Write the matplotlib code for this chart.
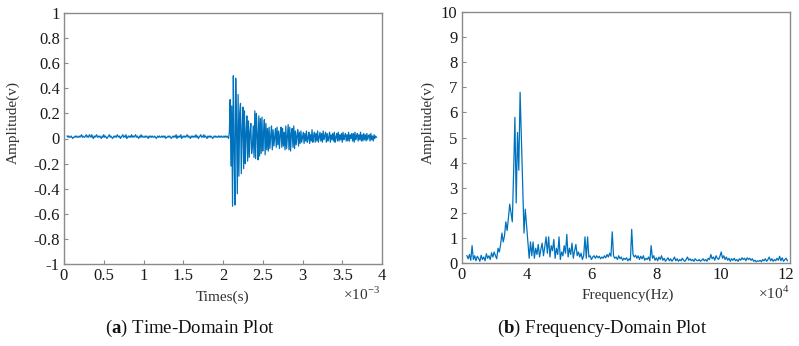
import numpy as np
import matplotlib
matplotlib.use("Agg")
import matplotlib.pyplot as plt

plt.rcParams['font.family'] = ['Liberation Serif', 'DejaVu Serif']
plt.rcParams['mathtext.fontset'] = 'custom'
plt.rcParams['mathtext.rm'] = 'Liberation Serif'
plt.rcParams['mathtext.bf'] = 'Liberation Serif:bold'

# ---- time-domain signal (hundredths of a volt) ----
# sampled every 0.01 ms starting at 0.04 ms
T_START = 0.04
T_STEP = 0.01
amp_time = [
    2, 1, 2, 1, 1, 2, 1, 0, 1, 1, 2, 1, 2, 1, 1, 2, 1, 2, 3, 1,
    2, 1, 1, 2, 3, 1, 2, 1, 3, 2, 1, 3, 1, 0, 2, 1, 2, 3, 1, 2,
    1, 2, 1, 0, 2, 1, 3, 1, 2, 1, 0, 1, 2, 3, 1, 2, 1, 0, 1, 2,
    1, 2, 1, 3, 2, 1, 2, 0, 1, 2, 3, 1, 2, 1, 3, 0, 1, 2, 1, 2,
    1, 3, 1, 2, 1, 2, 3, 1, 2, 1, 0, 2, 1, 3, 1, 2, 1, 1, 2, 1,
    2, 1, 0, 2, 1, 2, 1, 2, 1, 1, 2, 1, 0, 1, 2, 1, 2, 1, 1, 2,
    1, 2, 1, 2, 0, 1, 1, 2, 1, 2, 1, 0, 1, 2, 1, 2, 1, 3, 0, 2,
    1, 2, 1, 3, 0, 1, 2, 1, 2, 1, 2, 3, 1, 2, 1, 0, 2, 1, 2, 1,
    2, 1, 3, 1, 2, 0, 1, 2, 3, 1, 2, 1, 3, 1, 2, 1, 0, 2, 1, 2,
    1, 2, 1, 0, 1, 2, 1, 2, 1, 1, 2, 1, 2, 1, 2, 1, 1, 2, 1, 2,
    1, 2, 1, 0,
    # burst
    5, 31, -22, 26, -54, 50, -8, -53, 48, 10, -44, 35, -30, 20, 28, -28, 6, 25, -24, 22,
    -20, 4, 18, -18, 14, -15, 5, 12, -12, -6, 10, -15, 22, -16, 20, 3, -17, 18, -14, 16,
    -12, 17, -10, 4, 15, -13, 12, -9, 8, -10,
    9, -8, 2, 10, -9, 7, -6, 1, 8, -7, 9, -5, 6, -8, 3, 9, -7, 8, -6, 5,
    -9, 10, -8, 2, 11, -9, 9, -10, 4, 8, -7, 10, -8, 6, -5, 2, 7, -6, 5, -4,
    6, -3, 1, 5, -4, 4, -2, 6, -3, 0, 5, -4, 3, -2, 7, -3, 2, 5, -3, 4,
    -2, 6, -3, 1, 5, -2, 4, -3, 6, -1, 2, 5, -3, 4, -2, 1, 5, -3, 3, -1,
    4, -2, 5, -3, 1, 4, -2, 5, -2, 3, -1, 4, -3, 5, -1, 2, 4, -2, 3, -2,
    5, -2, 3, 0, 4, -2, 4, -3, 5, -1, 2, 4, -2, 3, -1, 5, -2, 3, -2, 4,
    -1, 3, -2, 4, -1, 2, 3, -2, 4, -1, 2, -2, 3, 0, 2, 1,
]

# ---- frequency spectrum (hundredths of a volt) ----
# sampled every 0.04 (x10^4 Hz) starting at 2.16 on the axis scale
F_START = 2.16
F_STEP = 0.04
amp_freq = [
    30, 18, 35, 12, 70, 15, 30, 10, 28, 20, 8, 32, 15, 25, 10, 38, 20, 30, 15, 42, 25, 45, 30, 18, 60,
    45, 75, 120, 85, 110, 165, 130, 180, 235, 200, 165, 360, 580, 240, 520, 370, 680, 500, 310, 120, 215, 150, 80, 20, 85,
    30, 85, 20, 60, 35, 75, 25, 55, 80, 30, 65, 105, 40, 105, 25, 70, 50, 95, 20, 60, 35, 105, 15, 45, 30,
    70, 40, 115, 25, 60, 35, 80, 20, 50, 75, 30, 45, 25, 40, 15, 30, 105, 20, 105, 25, 30, 15, 25, 30, 20,
    30, 22, 28, 18, 25, 20, 30, 22, 35, 25, 40, 28, 125, 30, 20, 25, 15, 30, 18, 25, 12, 20, 15, 22, 10,
    18, 12, 135, 35, 25, 32, 20, 30, 15, 28, 18, 30, 12, 20, 15, 25, 10, 70, 20, 30, 12, 22, 10, 25, 15,
    30, 12, 20, 8, 15, 22, 10, 18, 8, 15, 25, 10, 18, 8, 15, 10, 20, 12, 8, 15, 25, 12, 18, 10, 15,
    8, 18, 12, 10, 15, 8, 12, 18, 10, 15, 8, 20, 15, 35, 18, 25, 12, 30, 20, 15, 28, 45, 20, 30, 15,
    25, 12, 20, 8, 18, 12, 20, 10, 15, 8, 18, 12, 22, 15, 20, 10, 22, 15, 20, 12, 18, 8, 12, 6, 10,
    8, 12, 6, 15, 10, 18, 8, 15, 25, 10, 18, 8, 15, 10, 20, 12, 28, 10, 22, 8, 15, 20, 10,
]

t_ms = T_START + T_STEP * np.arange(len(amp_time))
v_time = np.array(amp_time) / 100.0
f_pos = F_START + F_STEP * np.arange(len(amp_freq))
v_freq = np.array(amp_freq) / 100.0

time_ticks = [0, 0.5, 1, 1.5, 2, 2.5, 3, 3.5, 4]
time_yticks = [-1, -0.8, -0.6, -0.4, -0.2, 0, 0.2, 0.4, 0.6, 0.8, 1]
freq_tick_pos = [2, 4, 6, 8, 10, 12]
freq_tick_labels = ['0', '4', '6', '8', '10', '12']
freq_yticks = list(range(0, 11))

LINE = '#0072BD'
SPINE = '#8a8a8a'
W, H = 799, 346

fig = plt.figure(figsize=(W / 100, H / 100), dpi=100)
ax1 = fig.add_axes([64 / W, (H - 264) / H, 318 / W, 251 / H])
ax2 = fig.add_axes([461.7 / W, (H - 263.3) / H, (790 - 461.7) / W, 251.6 / H])

def style(ax):
    for s in ax.spines.values():
        s.set_color(SPINE)
        s.set_linewidth(1.0)
    ax.tick_params(direction='in', length=3, color=SPINE, labelsize=12,
                   labelcolor='#1a1a1a', top=False, right=False, pad=3)

# (a) time domain
ax1.plot(t_ms, v_time, color=LINE, lw=0.9)
ax1.set_xlim(0, 4)
ax1.set_ylim(-1, 1)
ax1.set_xticks(time_ticks)
ax1.set_xticklabels([f'{v:g}' for v in time_ticks])
ax1.set_yticks(time_yticks)
ax1.set_yticklabels([f'{v:g}' for v in time_yticks])
style(ax1)

# (b) frequency domain
ax2.plot(f_pos, v_freq, color=LINE, lw=0.9)
ax2.set_xlim(2, 12.12)
ax2.set_ylim(0, 10)
ax2.set_xticks(freq_tick_pos)
ax2.set_xticklabels(freq_tick_labels)
ax2.set_yticks(freq_yticks)
style(ax2)
ax2.tick_params(axis='x', length=0)

lab = dict(fontsize=11, color='#333333')
fig.text(12.8 / W, 1 - 122.5 / H, 'Amplitude(v)', rotation=90, ha='center', va='center', **lab)
fig.text(428.3 / W, 1 - 122 / H, 'Amplitude(v)', rotation=90, ha='center', va='center', **lab)
fig.text(222.5 / W, 1 - 297 / H, 'Times(s)', ha='center', va='center', **lab)
fig.text(627.5 / W, 1 - 295 / H, 'Frequency(Hz)', ha='center', va='center', **lab)
fig.text(380 / W, 1 - 294 / H, r'$\times10^{-3}$', ha='right', va='center', **lab)
fig.text(789 / W, 1 - 293 / H, r'$\times10^{4}$', ha='right', va='center', **lab)

cap = dict(fontsize=13.5, color='#111111', ha='center', va='center')
fig.text(189.5 / W, 1 - 328 / H, r'($\mathbf{a}$) Time-Domain Plot', **cap)
fig.text(602.5 / W, 1 - 328 / H, r'($\mathbf{b}$) Frequency-Domain Plot', **cap)

fig.savefig('out.png', dpi=100)
